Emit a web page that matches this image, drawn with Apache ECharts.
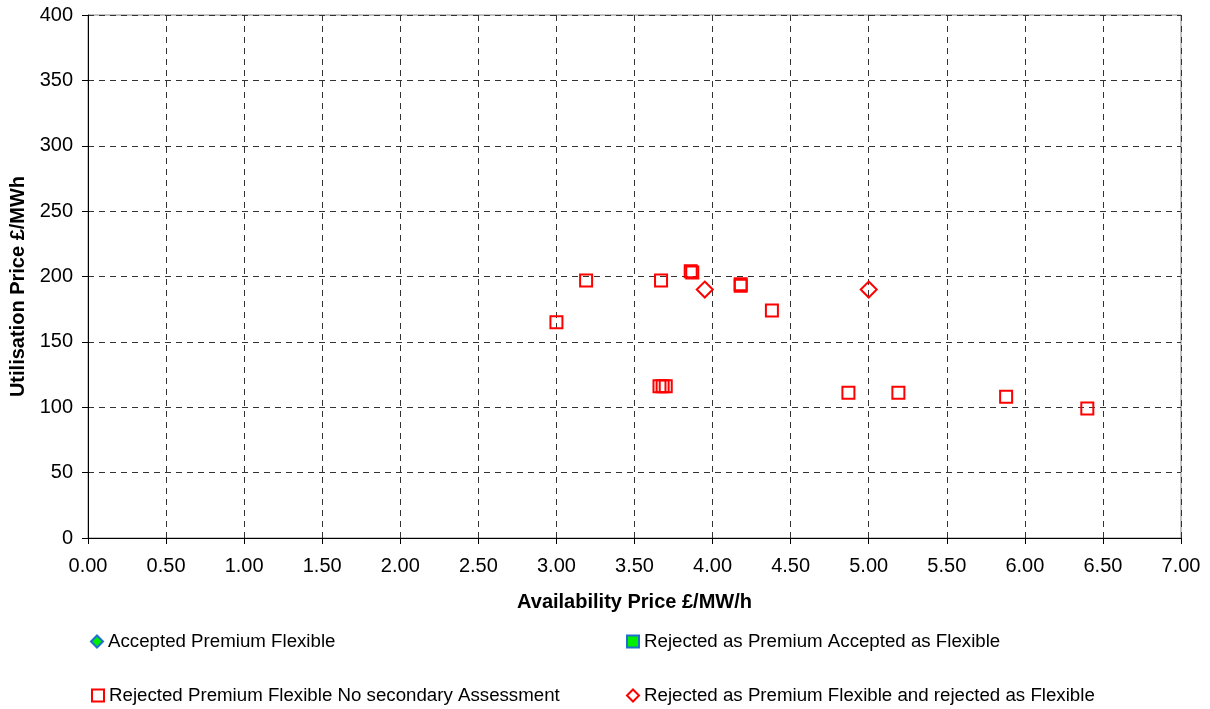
<!DOCTYPE html>
<html>
<head>
<meta charset="utf-8">
<script src="https://cdn.jsdelivr.net/npm/echarts@6/dist/echarts.min.js"></script>
<style>
  html, body { margin: 0; padding: 0; background: #fff; }
  #chart { width: 1210px; height: 709px; }
</style>
</head>
<body>
<div id="chart"></div>
<script>
// Series names (legend order)
const seriesNames = [
  'Accepted Premium Flexible',
  'Rejected as Premium Accepted as Flexible',
  'Rejected Premium Flexible No secondary Assessment',
  'Rejected as Premium Flexible and rejected as Flexible'
];

// [availability price £/MW/h, utilisation price £/MWh]
const acceptedPremiumFlexible = [];
const rejectedPremiumAcceptedFlexible = [];
const rejectedNoSecondary = [
  [3.00, 165], [3.19, 197], [3.67, 197], [3.86, 204], [3.87, 203],
  [4.18, 194], [4.18, 193], [4.38, 174],
  [3.66, 116], [3.68, 116], [3.70, 116],
  [4.87, 111], [5.19, 111], [5.88, 108], [6.40, 99]
];
const rejectedBothFlexible = [
  [3.95, 190], [5.00, 190]
];

// Axis ranges
const xRange = { min: 0, max: 7, interval: 0.5 };
const yRange = { min: 0, max: 400, interval: 50 };

const FONT = '"Liberation Sans", Arial, sans-serif';
const gridLine = { show: true, lineStyle: { color: '#333', type: [6, 5], width: 1 } };

const chart = echarts.init(document.getElementById('chart'), null, { renderer: 'canvas' });

function legendAt(name, left, top) {
  return {
    data: [name], left: left, top: top, orient: 'horizontal',
    itemWidth: 12, itemHeight: 12, selectedMode: false,
    textStyle: { fontFamily: FONT, fontSize: 18.7, color: '#000' }
  };
}

chart.setOption({
  animation: false,
  backgroundColor: '#fff',
  grid: {
    left: 87, top: 15, right: 29, bottom: 171,
    show: true, borderColor: '#888', borderWidth: 1, backgroundColor: '#fff'
  },
  legend: [
    legendAt(seriesNames[0], 85, 627),
    legendAt(seriesNames[1], 621, 627),
    legendAt(seriesNames[2], 86, 681),
    legendAt(seriesNames[3], 621, 681)
  ],
  xAxis: {
    type: 'value', min: xRange.min, max: xRange.max, interval: xRange.interval,
    name: 'Availability Price £/MW/h', nameLocation: 'middle', nameGap: 54,
    nameTextStyle: { fontFamily: FONT, fontSize: 20, fontWeight: 'bold', color: '#000' },
    axisLine: { show: true, onZero: false, lineStyle: { color: '#000', width: 1 } },
    axisTick: { show: true, length: 6, lineStyle: { color: '#000' } },
    axisLabel: {
      fontFamily: FONT, fontSize: 20, color: '#000', margin: 18,
      formatter: v => v.toFixed(2)
    },
    splitLine: gridLine
  },
  yAxis: {
    type: 'value', min: yRange.min, max: yRange.max, interval: yRange.interval,
    name: 'Utilisation Price £/MWh', nameLocation: 'middle', nameGap: 60,
    nameTextStyle: {
      fontFamily: FONT, fontSize: 20, fontWeight: 'bold', color: '#000',
      padding: [0, 20, 0, 0]
    },
    axisLine: { show: true, lineStyle: { color: '#000', width: 1 } },
    axisTick: { show: true, length: 6, lineStyle: { color: '#000' } },
    axisLabel: { fontFamily: FONT, fontSize: 20, color: '#000', margin: 15 },
    splitLine: gridLine
  },
  series: [
    {
      name: seriesNames[0], type: 'scatter', data: acceptedPremiumFlexible,
      symbol: 'diamond', symbolSize: 12,
      itemStyle: { color: '#00ee00', borderColor: '#1f6fd0', borderWidth: 1.5, opacity: 1 }
    },
    {
      name: seriesNames[1], type: 'scatter', data: rejectedPremiumAcceptedFlexible,
      symbol: 'rect', symbolSize: 12,
      itemStyle: { color: '#00ee00', borderColor: '#1f6fd0', borderWidth: 1.5, opacity: 1 }
    },
    {
      name: seriesNames[2], type: 'scatter', data: rejectedNoSecondary,
      symbol: 'rect', symbolSize: 12,
      itemStyle: { color: 'rgba(255,255,255,0)', borderColor: '#ff0000', borderWidth: 2, opacity: 1 },
      emphasis: { disabled: true }
    },
    {
      name: seriesNames[3], type: 'scatter', data: rejectedBothFlexible,
      symbol: 'diamond', symbolSize: 16,
      itemStyle: { color: 'rgba(255,255,255,0)', borderColor: '#ff0000', borderWidth: 2, opacity: 1 },
      emphasis: { disabled: true }
    }
  ]
});
</script>
</body>
</html>
